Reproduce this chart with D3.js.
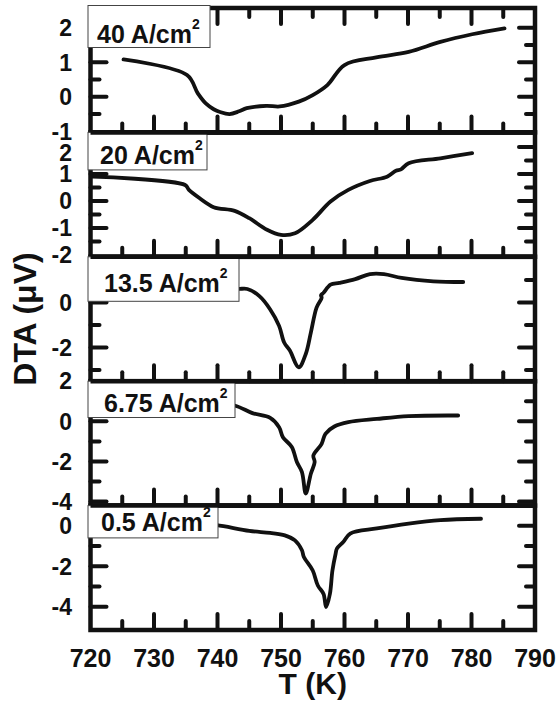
<!DOCTYPE html>
<html><head><meta charset="utf-8">
<script src="https://cdn.jsdelivr.net/npm/d3@7/dist/d3.min.js"></script>
<style>body{margin:0;background:#fff}svg{display:block}</style>
</head><body>
<svg id="c" width="558" height="705"></svg>
<script>
// ---------------- data ----------------
const tempTicks = [720,730,740,750,760,770,780,790];
const tempDomain = [720,790];
const panelLabels = ["40 A/cm","20 A/cm","13.5 A/cm","6.75 A/cm","0.5 A/cm"];
const labelSup = "2";
const yRanges = [[-1.03,2.57],[-2.07,2.54],[-3.5,2.03],[-4.2,2.0],[-5.15,1.0]];
const yTickLabels = [[2,1,0,-1],[2,1,0,-1,-2],[0,-2],[2,0,-2,-4],[0,-2,-4]];
const yMinorSteps = [0.5,0.5,1,1,1];
const yMajorSteps = [1,1,2,2,2];

const dta40 = [[725.2,1.08],[735.2,0.63],[736.9,0.10],[738.2,-0.20],[739.4,-0.36],[740.4,-0.44],[741.9,-0.50],[743.4,-0.42],[744.6,-0.33],[747.7,-0.26],[749.8,-0.28],[752.8,-0.14],[755,0.05],[757.3,0.34],[760,0.92],[765,1.14],[770.1,1.30],[775.1,1.59],[780.1,1.81],[785.2,1.98]];
const dta20 = [[720.3,0.90],[734.9,0.59],[735.5,0.41],[737.2,0.10],[739.4,-0.23],[742.7,-0.37],[745,-0.64],[747.8,-1.07],[750,-1.26],[752.2,-1.20],[755,-0.70],[757.8,-0.02],[760.6,0.41],[764,0.74],[766.7,0.90],[768.1,1.12],[768.9,1.17],[770.1,1.40],[775.1,1.58],[780.1,1.77]];
const dta135 = [[735,0.62],[740,0.60],[743.3,0.60],[744.7,0.60],[746.6,0.28],[748.3,-0.31],[749.7,-1.04],[750.5,-1.78],[751.4,-2.14],[752.8,-2.88],[753.9,-2.29],[754.7,-1.34],[755.6,-0.23],[756.4,0.21],[756.3,0.32],[756.7,0.43],[757.8,0.79],[759.2,0.87],[761.7,1.04],[764,1.26],[766.2,1.26],[769,1.09],[774,0.94],[778.7,0.91]];
const dta675 = [[733,1.1],[738,0.95],[742.7,0.79],[745.5,0.41],[748.3,0.17],[749.7,-0.29],[750.3,-0.79],[751.7,-1.28],[752.5,-2.03],[753.3,-2.53],[753.9,-3.6],[754.7,-2.61],[755.3,-2.03],[755.1,-1.70],[756.4,-1.12],[757,-0.62],[758.4,-0.26],[760.6,-0.04],[765.1,0.12],[770.1,0.26],[777.9,0.29]];
const dta05 = [[733,0.2],[737,0.1],[739.9,0.03],[745,-0.25],[748.3,-0.35],[750.6,-0.47],[752.2,-0.72],[753.3,-1.21],[753.6,-1.54],[755,-2.21],[755.8,-2.95],[756.7,-3.37],[757.1,-4.02],[757.7,-3.37],[758.1,-2.21],[758.6,-1.38],[758.8,-1.13],[759.8,-0.80],[760.9,-0.38],[765.1,-0.13],[770.1,0.11],[775.1,0.28],[781.5,0.35]];
const series = [dta40, dta20, dta135, dta675, dta05];

// ---------------- layout ----------------
const X0 = 90.5, X1 = 535, TOP = 8, BOT = 630;
const PH = (BOT - TOP) / 5;
const FONT = "'Liberation Sans', Arial, Helvetica, sans-serif";
const boxLayout = [
  {w:122, h:39.5, base:34.5, tx:9},
  {w:119, h:37.5, base:31.2, tx:12},
  {w:151, h:44.5, base:34.7, tx:16},
  {w:147, h:36.3, base:31,   tx:16},
  {w:130, h:32.3, base:25.5, tx:13}
];
// small vertical nudges of crowded tick labels (panel index, value, px)
const labelNudge = [[1, 2, 6]];

const svg = d3.select("#c");
const x = d3.scaleLinear().domain(tempDomain).range([X0, X1]);

const gCurves = svg.append("g");
const gTicks = svg.append("g");
const gFrame = svg.append("g");
const gBoxes = svg.append("g");
const gSep = svg.append("g");
const gText = svg.append("g");

series.forEach((data, i) => {
  const top = TOP + i * PH, bot = top + PH;
  const y = d3.scaleLinear().domain(yRanges[i]).range([bot, top]);

  const cid = "clip" + i;
  svg.append("clipPath").attr("id", cid).append("rect")
    .attr("x", X0).attr("y", top).attr("width", X1 - X0).attr("height", PH);

  const line = d3.line().x(d => x(d[0])).y(d => y(d[1])).curve(d3.curveCatmullRom.alpha(0.5));
  gCurves.append("path").datum(data)
    .attr("clip-path", `url(#${cid})`)
    .attr("d", line).attr("fill", "none").attr("stroke", "#111")
    .attr("stroke-width", 3.8).attr("stroke-linejoin", "round").attr("stroke-linecap", "round");

  // y ticks (inward, left + right)
  const ms = yMinorSteps[i], Ms = yMajorSteps[i];
  const start = Math.ceil(yRanges[i][0] / ms) * ms;
  for (let v = start; v <= yRanges[i][1] + 1e-9; v += ms) {
    const vv = Math.round(v * 100) / 100;
    const py = y(vv);
    if (py - top < 3.5 || bot - py < 3.5) continue;
    const major = Math.abs(vv / Ms - Math.round(vv / Ms)) < 1e-6;
    const len = major ? 16 : 9;
    [[X0, X0 + len], [X1, X1 - len]].forEach(([a, b]) => {
      gTicks.append("line").attr("x1", a).attr("x2", b).attr("y1", py).attr("y2", py)
        .attr("stroke", "#111").attr("stroke-width", 4).attr("stroke-linecap", "round");
    });
  }
  // x ticks
  for (let t = 725; t < 790; t += 5) {
    const major = t % 10 === 0;
    const len = major ? 16 : 9;
    gTicks.append("line").attr("x1", x(t)).attr("x2", x(t)).attr("y1", bot).attr("y2", bot - len)
      .attr("stroke", "#111").attr("stroke-width", 4).attr("stroke-linecap", "round");
    if (i === 0) {
      gTicks.append("line").attr("x1", x(t)).attr("x2", x(t)).attr("y1", top).attr("y2", top + len)
        .attr("stroke", "#111").attr("stroke-width", 4).attr("stroke-linecap", "round");
    }
  }

  gFrame.append("rect").attr("x", X0).attr("y", top).attr("width", X1 - X0).attr("height", PH)
    .attr("fill", "none").attr("stroke", "#111").attr("stroke-width", 4.5);

  const b = boxLayout[i];
  const by = i === 0 ? top - 2.5 : top;
  gBoxes.append("rect").attr("x", X0 - 2.5).attr("y", by).attr("width", b.w).attr("height", b.h + (i === 0 ? 2.5 : 0))
    .attr("fill", "#fff").attr("stroke", "#444").attr("stroke-width", 1);
  const tx = gBoxes.append("text").attr("x", X0 - 2.5 + b.tx).attr("y", top + b.base)
    .attr("font-family", FONT).attr("font-weight", "bold").attr("font-size", 25).attr("fill", "#111");
  tx.append("tspan").text(panelLabels[i]);
  tx.append("tspan").attr("font-size", 14).attr("dy", -14).text(labelSup);

  if (i > 0) {
    gSep.append("line").attr("x1", X0).attr("x2", X1).attr("y1", top).attr("y2", top)
      .attr("stroke", "#111").attr("stroke-width", 4.5);
  }

  yTickLabels[i].forEach(v => {
    const n = labelNudge.find(d => d[0] === i && d[1] === v);
    gText.append("text").attr("x", 72).attr("y", y(v) + (n ? n[2] : 0)).attr("dy", "0.36em")
      .attr("text-anchor", "end").attr("font-family", FONT).attr("font-weight", "bold")
      .attr("font-size", 23).attr("fill", "#111").text(v);
  });
});

tempTicks.forEach(t => {
  gText.append("text").attr("x", x(t)).attr("y", 667).attr("text-anchor", "middle")
    .attr("font-family", FONT).attr("font-weight", "bold").attr("font-size", 25).attr("fill", "#111").text(t);
});

gText.append("text").attr("x", (X0 + X1) / 2).attr("y", 694).attr("text-anchor", "middle")
  .attr("font-family", FONT).attr("font-weight", "bold").attr("font-size", 30).attr("fill", "#111").text("T (K)");
gText.append("text").attr("transform", `translate(36,${(TOP + BOT) / 2}) rotate(-90)`).attr("text-anchor", "middle")
  .attr("font-family", FONT).attr("font-weight", "bold").attr("font-size", 32).attr("fill", "#111").text("DTA (μV)");
</script>
</body></html>
